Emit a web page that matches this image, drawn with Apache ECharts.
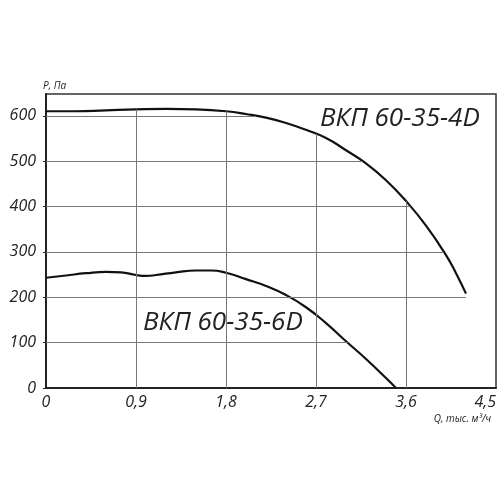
<!DOCTYPE html>
<html>
<head>
<meta charset="utf-8">
<script src="https://cdn.jsdelivr.net/npm/echarts@6/dist/echarts.min.js"></script>
<style>
html, body { margin: 0; padding: 0; background: #fff; }
#chart { width: 500px; height: 500px; }
</style>
</head>
<body>
<div id="chart"></div>
<script>
// ВКП 60-35-4D
var q4 = [0, 0.3, 0.6, 0.9, 1.2, 1.5, 1.8, 2.0, 2.2, 2.4, 2.6, 2.8, 3.0, 3.2, 3.4, 3.6, 3.8, 4.0, 4.1, 4.2];
var p4 = [610, 610, 612, 614, 615, 614, 610, 604, 596, 584, 569, 551, 524, 495, 458, 412, 358, 293, 253, 208];
// ВКП 60-35-6D
var q6 = [0, 0.2, 0.4, 0.6, 0.75, 0.9, 1.0, 1.1, 1.3, 1.5, 1.65, 1.8, 2.0, 2.2, 2.4, 2.6, 2.8, 3.0, 3.2, 3.4, 3.5];
var p6 = [243, 248, 253, 256, 255, 249, 247, 249, 255, 259, 259, 254, 240, 225, 205, 178, 143, 103, 64, 22, 0];

var xTicks = [0.9, 1.8, 2.7, 3.6];
var yTicks = [100, 200, 300, 400, 500, 600];
var name4 = 'ВКП 60-35-4D';
var name6 = 'ВКП 60-35-6D';

function pairs(xs, ys) {
	var r = [];
	for (var i = 0; i < xs.length; i++) r.push([xs[i], ys[i]]);
	return r;
}

// x, где кривая пересекает уровень v (последнее пересечение)
function crossX(xs, ys, v) {
	for (var i = xs.length - 1; i > 0; i--) {
		if ((ys[i - 1] - v) * (ys[i] - v) <= 0 && ys[i - 1] != ys[i]) {
			return xs[i - 1] + (v - ys[i - 1]) * (xs[i] - xs[i - 1]) / (ys[i] - ys[i - 1]);
		}
	}
	return null;
}

function yAt(xs, ys, x) {
	for (var i = 1; i < xs.length; i++) {
		if (x <= xs[i]) {
			return ys[i - 1] + (x - xs[i - 1]) * (ys[i] - ys[i - 1]) / (xs[i] - xs[i - 1]);
		}
	}
	return ys[ys.length - 1];
}

// сетка только под кривыми
var gridLines = [];
yTicks.forEach(function(v) {
	var end;
	if (v >= 200) {
		end = crossX(q4, p4, v);
		if (end === null) end = q4[q4.length - 1];
	} else {
		end = crossX(q6, p6, v);
	}
	gridLines.push([{ coord: [0, v] }, { coord: [end, v] }]);
});
xTicks.forEach(function(x) {
	gridLines.push([{ coord: [x, 0] }, { coord: [x, yAt(q4, p4, x)] }]);
});

var italic = { fontFamily: 'Open Sans', fontStyle: 'italic', fill: '#222' };

var myChart = echarts.init(document.getElementById('chart'));
var option = {
	animation: false,
	grid: {
		left: 46, right: 4, top: 94, bottom: 112,
		show: true, borderColor: '#333', borderWidth: 1.5
	},
	xAxis: {
		type: 'value',
		min: 0, max: 4.5, interval: 0.9,
		axisLine: { lineStyle: { color: '#222', width: 2 } },
		axisTick: { show: false },
		splitLine: { show: false },
		axisLabel: {
			margin: 6,
			fontSize: 16,
			fontFamily: 'Open Sans', fontStyle: 'italic', color: '#222',
			alignMaxLabel: 'right',
			formatter: function(v) { return v === 0 ? '0' : v.toFixed(1).replace('.', ','); }
		}
	},
	yAxis: {
		type: 'value',
		min: 0, max: 648, interval: 100,
		axisLine: { show: true, lineStyle: { color: '#222', width: 2 } },
		axisTick: { show: true, length: 3, lineStyle: { color: '#222' } },
		splitLine: { show: false },
		axisLabel: {
			margin: 10,
			fontSize: 16,
			fontFamily: 'Open Sans', fontStyle: 'italic', color: '#222',
			showMaxLabel: false
		}
	},
	series: [
		{
			type: 'line',
			data: [],
			silent: true,
			markLine: {
				silent: true,
				symbol: ['none', 'none'],
				label: { show: false },
				lineStyle: { color: '#777', width: 1, type: 'solid' },
				emphasis: { disabled: true },
				data: gridLines
			}
		},
		{
			name: name4,
			type: 'line',
			data: pairs(q4, p4),
			smooth: 0.5,
			symbol: 'none',
			lineStyle: { color: '#111', width: 2.2 }
		},
		{
			name: name6,
			type: 'line',
			data: pairs(q6, p6),
			smooth: 0.5,
			symbol: 'none',
			lineStyle: { color: '#111', width: 2.2 }
		}
	],
	graphic: [
		{ type: 'text', left: 320, top: 106, style: Object.assign({ text: name4, fontSize: 26 }, italic) },
		{ type: 'text', left: 143, top: 310, style: Object.assign({ text: name6, fontSize: 26 }, italic) },
		{ type: 'text', left: 43, top: 81, style: Object.assign({ text: 'P, Па', fontSize: 10 }, italic) },
		{ type: 'text', right: 9, top: 414, style: Object.assign({ text: 'Q, тыс. м³/ч', fontSize: 10 }, italic) }
	]
};
myChart.setOption(option);
</script>
</body>
</html>
